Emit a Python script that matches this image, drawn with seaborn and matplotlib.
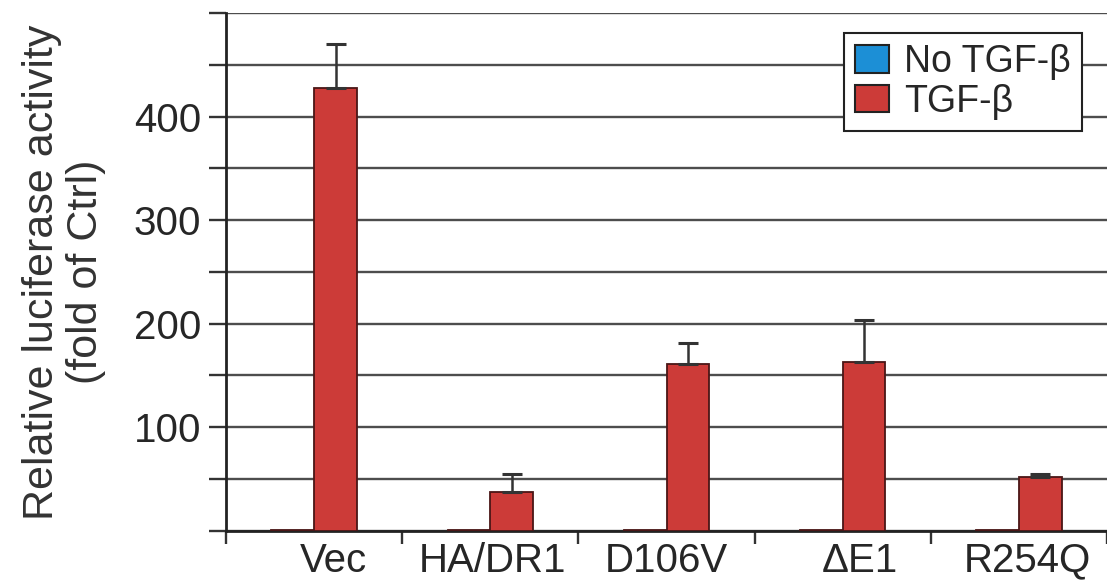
import numpy as np
import pandas as pd
import seaborn as sns
from matplotlib import pyplot as plt
from matplotlib.patches import Patch

# data
constructs = ['Vec', 'HA/DR1', 'D106V', '\u0394E1', 'R254Q']
treatments = ['No TGF-\u03b2', 'TGF-\u03b2']
no_tgf = [1, 1, 1, 1, 1]
tgf = [428, 37, 161, 163, 52]
tgf_err = [42, 18, 20, 40, 3]
no_tgf_err = [0, 0, 0, 0, 0]

# label nudges (category units) - labels in the original are not all centred
label_shift = [0.11, 0.01, 0.0, 0.1, 0.05]

BLUE = '#1c8fd6'
RED = '#cc3b38'
EDGE = '#4a1616'


def set_plt_params():
    sns.set_theme(style='white')
    plt.rcParams['font.family'] = ['Liberation Sans', 'DejaVu Sans']
    plt.rcParams['font.size'] = 29


if __name__ == '__main__':
    set_plt_params()

    df = pd.DataFrame({
        'construct': constructs * 2,
        'treatment': [treatments[0]] * 5 + [treatments[1]] * 5,
        'value': no_tgf + tgf,
        'err': no_tgf_err + tgf_err,
    })

    fig = plt.figure(figsize=(11.07, 5.84), dpi=100)
    ax = fig.add_axes([0.2042, 0.0913, 0.7958, 0.8865])

    sns.barplot(data=df, x='construct', y='value', hue='treatment',
                order=constructs, hue_order=treatments,
                palette=[BLUE, RED], width=0.485, gap=0,
                edgecolor=EDGE, linewidth=1.3, saturation=1,
                legend=False, ax=ax, zorder=3)

    # error bars (upward only) placed on the bars seaborn drew
    for i, p in enumerate(ax.patches):
        e = df['err'].iloc[i] if i < len(df) else 0
        if e <= 0:
            continue
        xc = p.get_x() + p.get_width() / 2
        ax.errorbar(xc, p.get_height(), yerr=[[0], [e]], fmt='none',
                    ecolor='#333333', elinewidth=1.8, capsize=7,
                    capthick=2.2, zorder=4)

    ax.set_xlim(-0.5, 4.477)
    ax.set_ylim(0, 500)

    yt = np.arange(0, 501, 50)
    ax.set_yticks(yt)
    ax.set_yticklabels([str(v) if v in (100, 200, 300, 400) else '' for v in yt],
                       fontsize=29)
    ax.yaxis.grid(True, color='#4d4d4d', linewidth=1.7, zorder=0)
    ax.set_axisbelow(True)

    ax.set_xticks(np.arange(len(constructs)) + np.array(label_shift))
    ax.set_xticklabels(constructs, fontsize=29)
    ax.tick_params(axis='x', length=0, pad=8)
    ax.set_xticks(np.arange(-0.5, 5, 1), minor=True)
    ax.tick_params(axis='x', which='minor', direction='out', length=9,
                   width=1.7, color='#333333', bottom=True)
    ax.tick_params(axis='y', direction='out', length=12, width=1.7,
                   color='#333333', left=True, pad=6)

    for s in ('top', 'right'):
        ax.spines[s].set_visible(False)
    for s in ('left', 'bottom'):
        ax.spines[s].set_color('#222222')
        ax.spines[s].set_linewidth(2.0)

    ax.set_xlabel('')
    ax.set_ylabel('Relative luciferase activity\n(fold of Ctrl)', fontsize=31,
                  color='#333333', labelpad=20, linespacing=1.12)

    handles = [Patch(facecolor=BLUE, edgecolor='#222222', linewidth=1.5),
               Patch(facecolor=RED, edgecolor='#222222', linewidth=1.5)]
    leg = ax.legend(handles, treatments, loc='upper right',
                    bbox_to_anchor=(0.9716, 0.962), fontsize=27,
                    frameon=True, fancybox=False, handlelength=0.9,
                    handleheight=0.75, handletextpad=0.4, borderpad=0.3,
                    labelspacing=0.1, borderaxespad=0)
    leg.get_frame().set_edgecolor('#222222')
    leg.get_frame().set_linewidth(1.5)
    leg.get_frame().set_alpha(1)
    leg.set_zorder(5)

    plt.savefig('out.png', dpi=100)
